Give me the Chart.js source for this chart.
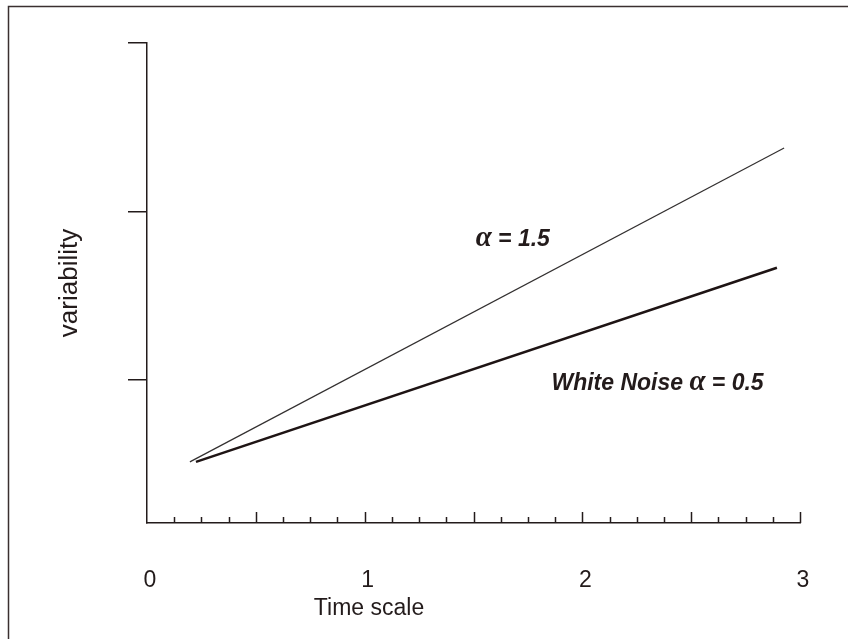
<!DOCTYPE html>
<html>
<head>
<meta charset="utf-8">
<script src="https://cdn.jsdelivr.net/npm/chart.js@4"></script>
<style>
  html, body { margin: 0; padding: 0; background: #fff; }
  #wrap { position: relative; width: 848px; height: 639px; }
</style>
</head>
<body>
<div id="wrap"><canvas id="myChart" width="848" height="639"></canvas></div>
<script>
// values (time scale vs variability)
const xLabels = [0, 1, 2, 3];
const yTicks = [1, 2, 3];

const alpha15X = [0.197, 2.927];
const alpha15Y = [0.513, 2.377];

const whiteNoiseX = [0.225, 2.894];
const whiteNoiseY = [0.513, 1.665];

// text labels on the plot, anchored in data units
const noteText = [' = 1.5', 'White Noise ', ' = 0.5'];
const noteX = [1.51, 1.858];
const noteY = [1.795, 0.941];

const ink = '#231b1b';

const toPoints = (xs, ys) => xs.map((x, i) => ({ x: x, y: ys[i] }));

// inward x ticks, notes, axis titles and the scan frame
const extras = {
  id: 'extras',
  afterDraw(chart) {
    const ctx = chart.ctx;
    const xs = chart.scales.x;
    const ys = chart.scales.y;
    const base = chart.chartArea.bottom;

    ctx.save();
    ctx.strokeStyle = ink;
    ctx.lineWidth = 1.5;
    xs.ticks.forEach(t => {
      if (t.value === 0) return;
      const px = Math.round(xs.getPixelForValue(t.value)) + 0.5;
      const len = (t.value * 2) % 1 === 0 ? 11 : 6;
      ctx.beginPath();
      ctx.moveTo(px, base);
      ctx.lineTo(px, base - len);
      ctx.stroke();
    });

    // frame of the scanned figure
    ctx.strokeStyle = '#3a3030';
    ctx.beginPath();
    ctx.moveTo(8.5, 639);
    ctx.lineTo(8.5, 6.5);
    ctx.lineTo(848, 6.5);
    ctx.stroke();

    ctx.fillStyle = ink;
    ctx.textBaseline = 'alphabetic';
    ctx.textAlign = 'left';
    const sans = 'bold italic 23px "Liberation Sans", Arial, sans-serif';
    const greek = 'bold italic 29px "Liberation Serif", "Times New Roman", serif';

    // alpha = 1.5
    let x = xs.getPixelForValue(noteX[0]);
    let y = ys.getPixelForValue(noteY[0]);
    ctx.font = greek;
    ctx.fillText('\u03b1', x, y);
    x += ctx.measureText('\u03b1').width;
    ctx.font = sans;
    ctx.fillText(noteText[0], x, y);

    // White Noise alpha = 0.5
    x = xs.getPixelForValue(noteX[1]);
    y = ys.getPixelForValue(noteY[1]);
    ctx.font = sans;
    ctx.fillText(noteText[1], x, y);
    x += ctx.measureText(noteText[1]).width;
    ctx.font = greek;
    ctx.fillText('\u03b1', x, y);
    x += ctx.measureText('\u03b1').width;
    ctx.font = sans;
    ctx.fillText(noteText[2], x, y);

    // axis titles
    ctx.font = '23px "Liberation Sans", Arial, sans-serif';
    ctx.textAlign = 'center';
    ctx.fillText('Time scale', 369, 615);
    ctx.translate(77, 283);
    ctx.rotate(-Math.PI / 2);
    ctx.font = '26px "Liberation Sans", Arial, sans-serif';
    ctx.fillText('variability', 0, 0);
    ctx.restore();
  }
};

const ctx = document.getElementById('myChart');

new Chart(ctx, {
  type: 'line',
  data: {
    datasets: [
      {
        label: 'alpha = 1.5',
        data: toPoints(alpha15X, alpha15Y),
        borderColor: '#333030',
        borderWidth: 1.2,
        pointRadius: 0,
        fill: false
      },
      {
        label: 'White Noise alpha = 0.5',
        data: toPoints(whiteNoiseX, whiteNoiseY),
        borderColor: '#1e1414',
        borderWidth: 2.6,
        pointRadius: 0,
        fill: false
      }
    ]
  },
  options: {
    responsive: false,
    animation: false,
    devicePixelRatio: 1,
    layout: { padding: { top: 43, right: 48, left: 0, bottom: 0 } },
    plugins: {
      legend: { display: false },
      tooltip: { enabled: false }
    },
    scales: {
      x: {
        type: 'linear',
        position: 'bottom',
        min: 0,
        max: 3,
        afterFit: s => { s.height = 116; s.paddingRight = 0; },
        ticks: {
          stepSize: 0.125,
          autoSkip: false,
          maxRotation: 0,
          padding: 44,
          labelOffset: 3,
          color: ink,
          font: { family: '"Liberation Sans", Arial, sans-serif', size: 23 },
          callback: v => xLabels.includes(v) ? String(v) : ''
        },
        grid: { drawOnChartArea: false, drawTicks: false },
        border: { display: true, color: ink, width: 1.5 }
      },
      y: {
        type: 'linear',
        min: 0.15,
        max: 3,
        afterFit: s => { s.width = 147; },
        afterBuildTicks: s => { s.ticks = yTicks.map(v => ({ value: v })); },
        ticks: { display: false },
        grid: { drawOnChartArea: false, drawTicks: true, tickLength: 19, color: ink, lineWidth: 1.5 },
        border: { display: true, color: ink, width: 1.5 }
      }
    }
  },
  plugins: [extras]
});
</script>
</body>
</html>
